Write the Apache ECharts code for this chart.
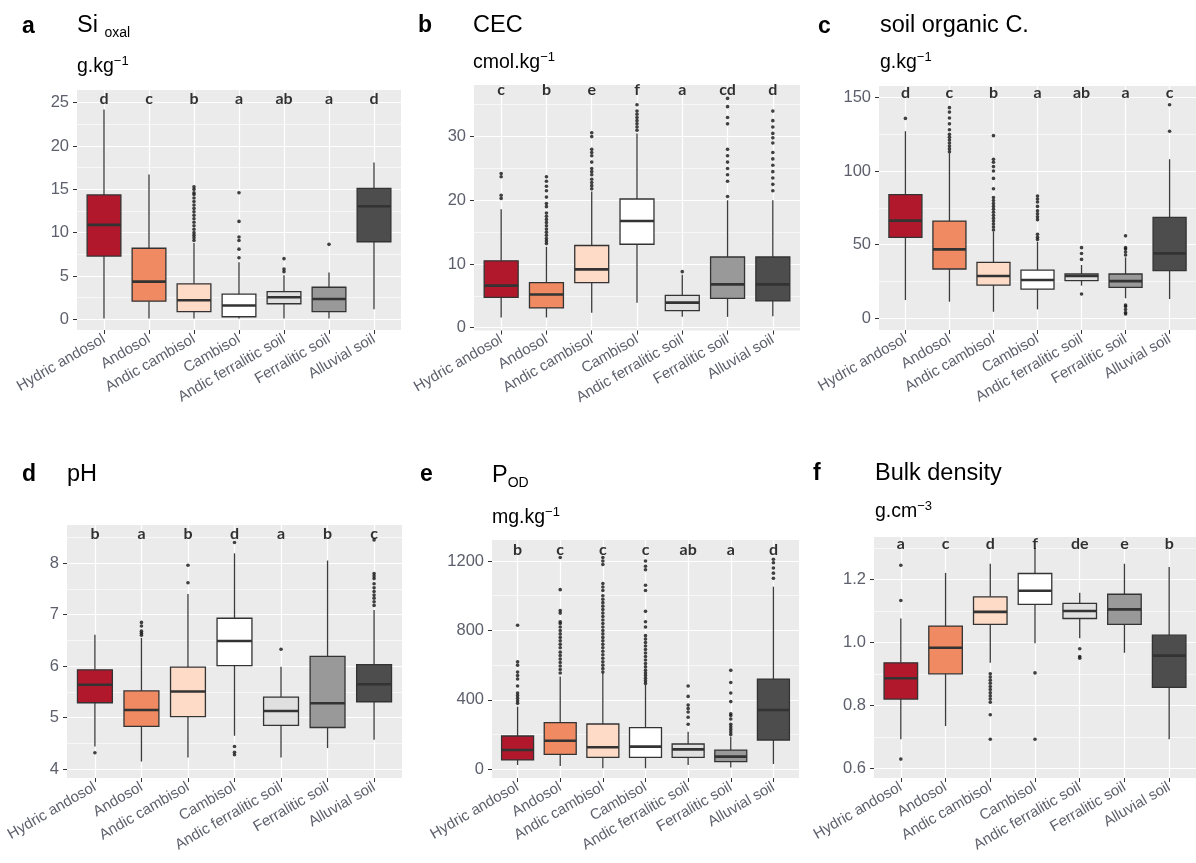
<!DOCTYPE html>
<html><head><meta charset="utf-8">
<script src="https://cdn.jsdelivr.net/npm/echarts@6/dist/echarts.min.js"></script>
<style>html,body{margin:0;padding:0;background:#fff}#c{width:1196px;height:863px}</style>
</head><body><div id="c"></div>
<script>
const categories = ['Hydric andosol','Andosol','Andic cambisol','Cambisol','Andic ferralitic soil','Ferralitic soil','Alluvial soil'];

// a  Si oxal  [low, Q1, median, Q3, high]
const siBoxes = [[0.1,7.3,10.9,14.35,24.2],[0.1,2.1,4.35,8.2,16.7],[0.1,0.9,2.2,4.1,8.8],[0.1,0.3,1.6,2.9,6.6],[0.1,1.8,2.55,3.2,5.1],[0.1,0.9,2.35,3.7,5.4],[1.15,8.95,13.05,15.1,18.1]];
const siOutliers = [[],[],[9.1,9.4,9.7,10.0,10.4,10.8,11.2,11.6,12.0,12.4,12.8,13.2,13.6,14.0,14.4,14.6,15.0,15.3],[7.1,8.1,9.1,9.5,11.3,14.6],[5.5,5.8,7.0],[8.65],[]];
const siLetters = ['d','c','b','a','ab','a','d'];
const siLetterY = 25.4;
const siTicks = [0,5,10,15,20,25];

// b  CEC
const cecBoxes = [[1.6,4.76,6.6,10.5,18.6],[1.6,3.1,5.2,7.07,12.7],[2.36,7.07,9.16,12.9,21.4],[3.9,13.1,16.75,20.2,30.5],[1.7,2.67,3.93,5.08,8.3],[1.7,4.6,6.8,11.1,20.0],[1.8,4.2,6.8,11.1,20.0]];
const cecOutliers = [[20.3,20.8,23.7,24.2],[13.2,13.6,14.0,14.5,15.0,15.5,16.0,16.5,17.0,17.5,18.0,19.0,19.5,20.5,21.5,22.2,23.0,23.7],[21.8,22.3,22.8,23.3,24.0,24.5,25.0,26.0,27.0,27.5,28.0,30.0,30.6],[31.0,31.5,32.0,32.5,33.0,33.5,34.0,35.0],[8.8],[20.6,23.0,24.0,25.0,26.0,27.0,28.0,32.0,33.0,34.7,36.0],[21.5,22.5,23.5,24.5,25.5,26.5,27.5,29.0,29.8,30.5,31.5,32.5,34.0]];
const cecLetters = ['c','b','e','f','a','cd','d'];
const cecLetterY = 37.3;
const cecTicks = [0,10,20,30];

// c  soil organic C.
const socBoxes = [[12.4,55,66.3,84,127],[11.3,33.5,46.8,66,112],[4.5,22.6,28.7,38,58.8],[6.1,19.9,26,32.8,52],[22.2,25.6,28.7,30.1,36.2],[13.6,21,25.3,30.1,41.4],[13.1,32.4,44.1,68.6,108]];
const socOutliers = [[135.7],[113,115,117,119,121,123,125,128,132,136,140,143],[60,62,64,66,68,70,72,74,76,78,80,82,88,95,100,103,106,108,124],[53.5,55,57,67,69,71,73,76,79,81,83],[16.5,40,44,48],[3,4,6,8,9,43,45,47,48,56],[127,145]];
const socLetters = ['d','c','b','a','ab','a','c'];
const socLetterY = 153;
const socTicks = [0,50,100,150];

// d  pH
const phBoxes = [[4.44,5.29,5.64,5.93,6.61],[4.15,4.83,5.15,5.52,6.55],[4.23,5.02,5.51,5.98,7.4],[4.65,6.01,6.49,6.93,8.19],[4.23,4.85,5.13,5.4,5.99],[4.41,4.81,5.28,6.19,8.05],[4.57,5.31,5.65,6.03,7.09]];
const phOutliers = [[4.32],[6.6,6.64,6.68,6.78,6.85],[7.62,7.96],[4.28,4.33,4.44,8.4],[6.33],[],[7.18,7.25,7.32,7.38,7.45,7.52,7.6,7.7,7.75,7.8,8.45]];
const phLetters = ['b','a','b','d','a','b','c'];
const phLetterY = 8.56;
const phTicks = [4,5,6,7,8];

// e  P OD
const podBoxes = [[25,54,111,192,361],[19,86,165,269,534],[6,69,127,261,553],[6,69,131,240,486],[25,69,115,146,217],[10,44,73,111,188],[31,169,342,520,1052]];
const podOutliers = [[380,395,410,425,440,480,520,540,560,600,620,830],[555,575,595,615,635,655,675,700,720,740,760,780,800,820,840,850,900,915,1035,1220],[560,580,600,620,640,660,680,700,720,740,760,780,800,820,840,860,880,900,920,940,960,980,1000,1030,1050,1070,1180,1200,1220],[495,510,525,540,555,570,590,610,630,650,670,690,710,730,750,770,820,850,910,1030,1060,1150,1170,1200],[260,300,330,350,370,420,480],[200,215,230,245,260,290,310,320,390,440,500,570],[1100,1130,1160,1190,1210]];
const podLetters = ['b','c','c','c','ab','a','d'];
const podLetterY = 1267;
const podTicks = [0,400,800,1200];

// f  Bulk density
const bdBoxes = [[0.692,0.82,0.886,0.935,1.076],[0.734,0.9,0.983,1.052,1.221],[0.935,1.057,1.097,1.145,1.25],[0.997,1.121,1.164,1.219,1.3],[1.013,1.076,1.1,1.124,1.158],[0.967,1.057,1.105,1.153,1.25],[0.692,0.857,0.958,1.023,1.24]];
const bdOutliers = [[0.629,1.133,1.245],[],[0.692,0.77,0.81,0.82,0.83,0.84,0.85,0.86,0.87,0.88,0.89,0.9],[0.692,0.903],[0.95,0.955,0.98],[],[]];
const bdLetters = ['a','c','d','f','de','e','b'];
const bdLetterY = 1.312;
const bdTicks = [0.6,0.8,1.0,1.2];

const boxColors = ['#B2182B','#EF8A62','#FDDBC7','#FFFFFF','#E0E0E0','#999999','#4D4D4D'];

const panels = [
  {boxes: siBoxes, outliers: siOutliers, letters: siLetters, letterY: siLetterY, ticks: siTicks},
  {boxes: cecBoxes, outliers: cecOutliers, letters: cecLetters, letterY: cecLetterY, ticks: cecTicks},
  {boxes: socBoxes, outliers: socOutliers, letters: socLetters, letterY: socLetterY, ticks: socTicks},
  {boxes: phBoxes, outliers: phOutliers, letters: phLetters, letterY: phLetterY, ticks: phTicks},
  {boxes: podBoxes, outliers: podOutliers, letters: podLetters, letterY: podLetterY, ticks: podTicks},
  {boxes: bdBoxes, outliers: bdOutliers, letters: bdLetters, letterY: bdLetterY, ticks: bdTicks}
];
// layout (px) and axis ranges
const layout = [
  {left:77, top:90, width:324, height:240, min:-1.23, max:26.46, step:5, dec:0},
  {left:474, top:85, width:326, height:245.5, min:-0.44, max:38.1, step:10, dec:0},
  {left:879, top:86, width:317, height:244, min:-7.9, max:157.7, step:50, dec:0},
  {left:67, top:525, width:335, height:253, min:3.83, max:8.74, step:1, dec:0},
  {left:492, top:540, width:307, height:238, min:-50, max:1321, step:400, dec:0},
  {left:874, top:537, width:322, height:241, min:0.569, max:1.335, step:0.2, dec:1}
];

const FONT = '"Liberation Sans", Arial, sans-serif';
const LABEL_COLOR = '#5d606c';
const LINE = '#333333';

const grids = [], xAxes = [], yAxes = [], series = [];
panels.forEach((p, k) => {
  const L = layout[k];
  grids.push({left: L.left, top: L.top, width: L.width, height: L.height, show: true, backgroundColor: '#EBEBEB', borderWidth: 0});
  xAxes.push({
    gridIndex: k, type: 'value', min: -0.6, max: 6.6, minInterval: 1, maxInterval: 1, position: 'bottom',
    axisLine: {show: false, onZero: false},
    axisTick: {show: true, length: 4, lineStyle: {color: LINE, width: 1}, customValues: [0,1,2,3,4,5,6]},
    axisLabel: {customValues: [0,1,2,3,4,5,6], formatter: v => categories[Math.round(v)], rotate: 30, margin: 8,
      color: LABEL_COLOR, fontSize: 15, fontFamily: FONT},
    splitLine: {show: true, lineStyle: {color: '#FFFFFF', width: 1.2}}
  });
  yAxes.push({
    gridIndex: k, type: 'value', min: L.min, max: L.max, minInterval: L.step, maxInterval: L.step, position: 'left',
    axisLine: {show: false, onZero: false},
    axisTick: {show: true, length: 4, lineStyle: {color: LINE, width: 1}, customValues: p.ticks},
    axisLabel: {customValues: p.ticks, formatter: v => v.toFixed(L.dec), margin: 8,
      color: LABEL_COLOR, fontSize: 16.5, fontFamily: FONT},
    splitLine: {show: true, lineStyle: {color: '#FFFFFF', width: 1.2}},
    minorTick: {show: false, splitNumber: 2},
    minorSplitLine: {show: true, lineStyle: {color: '#FFFFFF', width: 0.6}}
  });
  series.push({
    type: 'custom', xAxisIndex: k, yAxisIndex: k, clip: false,
    data: p.boxes.map((b, i) => [i].concat(b)),
    encode: {x: 0, y: [1,2,3,4,5]},
    renderItem: (params, api) => {
      const x = api.value(0);
      const lo = api.coord([x, api.value(1)]);
      const q1 = api.coord([x, api.value(2)]);
      const md = api.coord([x, api.value(3)]);
      const q3 = api.coord([x, api.value(4)]);
      const hi = api.coord([x, api.value(5)]);
      const hw = api.size([0.75, 0])[0] / 2;
      return {type: 'group', children: [
        {type: 'line', shape: {x1: lo[0], y1: lo[1], x2: q1[0], y2: q1[1]}, style: {stroke: '#3c3c3c', lineWidth: 1.3}},
        {type: 'line', shape: {x1: q3[0], y1: q3[1], x2: hi[0], y2: hi[1]}, style: {stroke: '#3c3c3c', lineWidth: 1.3}},
        {type: 'rect', shape: {x: q3[0] - hw, y: q3[1], width: 2 * hw, height: q1[1] - q3[1]},
          style: {fill: boxColors[params.dataIndex], stroke: LINE, lineWidth: 1.3}},
        {type: 'line', shape: {x1: md[0] - hw, y1: md[1], x2: md[0] + hw, y2: md[1]}, style: {stroke: LINE, lineWidth: 2.6}}
      ]};
    },
    z: 2
  });
  const pts = [];
  p.outliers.forEach((arr, i) => arr.forEach(v => pts.push([i, v])));
  series.push({
    type: 'scatter', xAxisIndex: k, yAxisIndex: k, data: pts, symbolSize: 3.6,
    itemStyle: {color: '#111111'}, z: 3, silent: true
  });
  series.push({
    type: 'scatter', xAxisIndex: k, yAxisIndex: k, symbolSize: 0, z: 4, silent: true,
    data: p.letters.map((t, i) => [i, p.letterY]),
    label: {show: true, position: 'inside', formatter: q => p.letters[q.dataIndex],
      fontFamily: 'Lato, "Open Sans", sans-serif', fontWeight: 'bold', fontSize: 16, color: '#000'}
  });
});

const rich = {
  sub: {fontSize: 14, fontFamily: FONT, lineHeight: 6, verticalAlign: 'bottom', fill: '#000'},
  sup: {fontSize: 13, fontFamily: FONT, lineHeight: 2, verticalAlign: 'top', fill: '#000'}
};
const titleTexts = [
  {x: 22, y: 27, text: 'a', bold: true},
  {x: 77, y: 26, text: 'Si {sub|oxal}'},
  {x: 77, y: 67, text: 'g.kg{sup|−1}', unit: true},
  {x: 418, y: 26, text: 'b', bold: true},
  {x: 473, y: 26, text: 'CEC'},
  {x: 473, y: 63, text: 'cmol.kg{sup|−1}', unit: true},
  {x: 818, y: 27, text: 'c', bold: true},
  {x: 880, y: 26, text: 'soil organic C.'},
  {x: 880, y: 63, text: 'g.kg{sup|−1}', unit: true},
  {x: 22, y: 475, text: 'd', bold: true},
  {x: 67, y: 475, text: 'pH'},
  {x: 420, y: 475, text: 'e', bold: true},
  {x: 492, y: 476, text: 'P{sub|OD}'},
  {x: 492, y: 518, text: 'mg.kg{sup|−1}', unit: true},
  {x: 813, y: 474, text: 'f', bold: true},
  {x: 875, y: 474, text: 'Bulk density'},
  {x: 875, y: 512, text: 'g.cm{sup|−3}', unit: true}
];
const graphic = titleTexts.map(t => ({
  type: 'text', x: t.x, y: t.y, z: 10,
  style: {
    text: t.text, fill: '#000', verticalAlign: 'middle', align: 'left',
    fontFamily: FONT,
    fontSize: t.bold ? 23 : (t.unit ? 19.5 : 23.5),
    fontWeight: t.bold ? 'bold' : 'normal',
    lineHeight: t.unit ? 24 : 28,
    rich: rich
  }
}));

const chart = echarts.init(document.getElementById('c'), null, {renderer: 'canvas'});
chart.setOption({
  animation: false,
  backgroundColor: '#FFFFFF',
  grid: grids, xAxis: xAxes, yAxis: yAxes, series: series, graphic: graphic
});
</script></body></html>
